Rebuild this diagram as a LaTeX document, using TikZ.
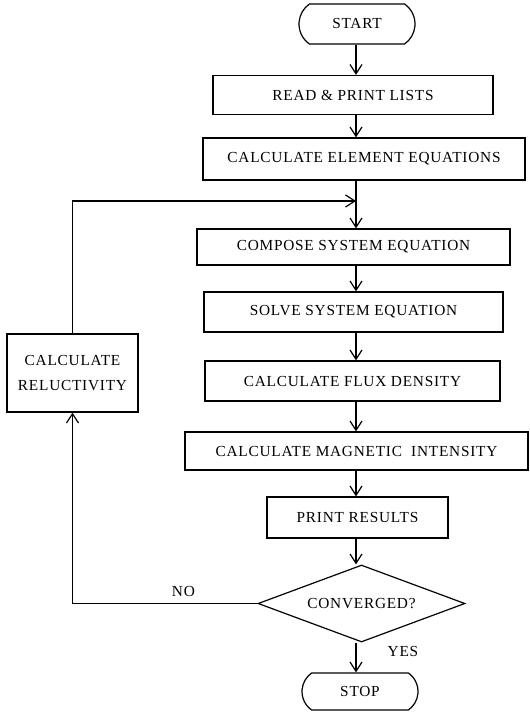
\documentclass[tikz,border=0pt]{standalone}
\usepackage{fontspec}
\setmainfont{Liberation Serif}
\newfontfamily\boxfont[LetterSpace=5]{Liberation Serif}
\usetikzlibrary{arrows.meta, positioning, shapes.geometric, shapes.misc, calc}

\begin{document}
\begin{tikzpicture}[
    x=0.75pt, y=-0.75pt,
    process/.style={draw, rectangle, inner sep=0pt, align=center, line width=0.9pt, font=\boxfont\fontsize{11.5}{19}\selectfont},
    terminal/.style={draw, rounded rectangle, rounded rectangle arc length=110, inner sep=0pt, line width=0.9pt, font=\boxfont\fontsize{11.5}{13}\selectfont},
    decision/.style={draw, diamond, aspect=2.7, inner sep=0pt, line width=0.9pt, font=\boxfont\fontsize{11.5}{13}\selectfont},
    line/.style={draw, -{Straight Barb[length=7pt, width=9pt]}, line width=0.9pt},
    tag/.style={font=\boxfont\fontsize{11.5}{13}\selectfont}
]
    \useasboundingbox (0,0) rectangle (530,712);
    \coordinate (spine) at (356,0);

    \node[terminal, minimum width=87pt, minimum height=30pt] (start) at (357,24) {START};
    \node[process, minimum width=210pt, minimum height=29.25pt] (readLists) at (353,95) {READ \& PRINT LISTS};
    \node[process, minimum width=241.5pt, minimum height=31.5pt] (elemEq) at (364,159) {CALCULATE ELEMENT EQUATIONS};
    \node[process, minimum width=234.75pt, minimum height=27pt] (composeEq) at (353.5,247) {COMPOSE SYSTEM EQUATION};
    \node[process, minimum width=224.25pt, minimum height=30pt] (solveEq) at (353.5,312) {SOLVE SYSTEM EQUATION};
    \node[process, minimum width=221.25pt, minimum height=30pt] (fluxDens) at (352.5,381) {CALCULATE FLUX DENSITY};
    \node[process, minimum width=257.25pt, minimum height=28.5pt] (magInt) at (356.5,451) {CALCULATE MAGNETIC~ INTENSITY};
    \node[process, minimum width=135.75pt, minimum height=30.75pt] (printRes) at (357.5,517.5) {PRINT RESULTS};
    \node[decision, minimum width=155.25pt, minimum height=57.75pt] (converged) at (361.5,603.5) {CONVERGED?};
    \node[terminal, minimum width=87pt, minimum height=27.75pt] (stop) at (360,691.5) {STOP};
    \node[process, minimum width=98.25pt, minimum height=58.5pt] (reluct) at (72.5,373) {CALCULATE\\RELUCTIVITY};

    % main column
    \draw[line] (start.south -| spine) -- (readLists.north -| spine);
    \draw[line] (readLists.south -| spine) -- (elemEq.north -| spine);
    \draw[line] (elemEq.south -| spine) -- (composeEq.north -| spine);
    \draw[line] (composeEq.south -| spine) -- (solveEq.north -| spine);
    \draw[line] (solveEq.south -| spine) -- (fluxDens.north -| spine);
    \draw[line] (fluxDens.south -| spine) -- (magInt.north -| spine);
    \draw[line] (magInt.south -| spine) -- (printRes.north -| spine);
    \draw[line] (printRes.south -| spine) -- (converged.north -| spine);
    \draw[line] (converged.south -| spine) -- (stop.north -| spine) node[tag, pos=0.3, right=20pt] {YES};

    % iteration loop
    \coordinate (merge) at ($(spine)+(0,201)$);
    \draw[line] (converged.west) -| (reluct.south) node[tag, pos=0.2, above=1pt] {NO};
    \draw[line] (reluct.north) |- (merge);
\end{tikzpicture}
\end{document}
